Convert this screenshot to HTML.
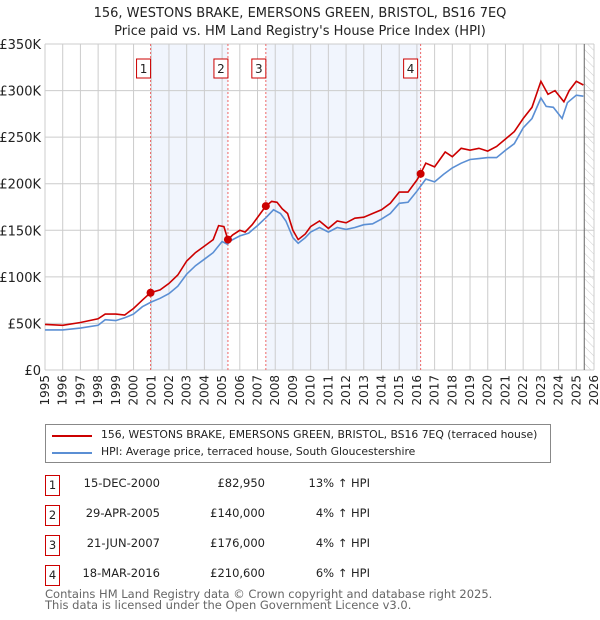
<!DOCTYPE html>
<html><head><meta charset="utf-8"><style>
body{margin:0;background:#fff;font-family:"DejaVu Sans","Liberation Sans",sans-serif;}
#wrap{position:relative;width:600px;height:620px;overflow:hidden}
svg text{font-family:"DejaVu Sans","Liberation Sans",sans-serif}
</style></head><body><div id="wrap">
<svg id="chart" width="600" height="620"></svg>
</div>
<script>
const years=[1995,1996,1997,1998,1999,2000,2001,2002,2003,2004,2005,2006,2007,2008,2009,2010,2011,2012,2013,2014,2015,2016,2017,2018,2019,2020,2021,2022,2023,2024,2025,2026];
const yTicks=[0,50000,100000,150000,200000,250000,300000,350000];
const yTickLabels=["£0","£50K","£100K","£150K","£200K","£250K","£300K","£350K"];
const hpiT=[1995,1996,1997,1998,1998.4,1999,1999.5,2000,2000.5,2001,2001.5,2002,2002.5,2003,2003.5,2004,2004.5,2005,2005.3,2005.5,2006,2006.5,2007,2007.5,2007.9,2008.3,2008.6,2009,2009.3,2009.7,2010,2010.5,2011,2011.5,2012,2012.5,2013,2013.5,2014,2014.5,2015,2015.5,2016,2016.5,2017,2017.5,2018,2018.5,2019,2019.5,2020,2020.5,2021,2021.5,2022,2022.5,2023,2023.3,2023.7,2024.2,2024.5,2025,2025.4];
const hpiV=[43,43,45,48,54,53,56,60,68,73,77,82,90,103,112,119,126,138,135,139,144,147,155,164,172,168,160,142,136,142,148,153,148,153,151,153,156,157,162,168,179,180,192,205,202,210,217,222,226,227,228,228,236,243,260,270,292,283,282,270,287,295,294];
const priceT=[1995,1996,1997,1998,1998.4,1999,1999.5,2000,2000.5,2000.96,2001.5,2002,2002.5,2003,2003.5,2004,2004.5,2004.8,2005.1,2005.33,2005.6,2006,2006.3,2006.7,2007.47,2007.8,2008.1,2008.4,2008.7,2009,2009.3,2009.7,2010,2010.5,2011,2011.5,2012,2012.5,2013,2013.5,2014,2014.5,2015,2015.5,2016,2016.21,2016.5,2017,2017.6,2018,2018.5,2019,2019.5,2020,2020.5,2021,2021.5,2022,2022.5,2023,2023.4,2023.8,2024.3,2024.6,2025,2025.4];
const priceV=[49,48,51,55,60,60,59,66,75,83,86,93,102,117,126,133,140,155,154,140,145,150,148,156,176,181,180,173,168,150,140,146,154,160,152,160,158,163,164,168,172,179,191,191,204,210.6,222,218,234,229,238,236,238,235,240,248,256,270,282,310,296,300,288,300,310,306];
const saleLabels=["1","2","3","4"];
const saleT=[2000.96,2005.33,2007.47,2016.21];
const saleV=[82950,140000,176000,210600];
const X0=45,X1=594,Y0=370,Y1=44;
const x=t=>X0+(t-1995)*(X1-X0)/31;
const y=v=>Y0-v*(Y0-Y1)/350000;
const NS="http://www.w3.org/2000/svg";
const svg=document.getElementById('chart');
function mk(tag,attrs,parent){const e=document.createElementNS(NS,tag);for(const k in attrs)e.setAttribute(k,attrs[k]);(parent||svg).appendChild(e);return e;}
let t=mk('text',{x:300,y:17,'text-anchor':'middle','font-size':13,fill:'#222'});t.textContent="156, WESTONS BRAKE, EMERSONS GREEN, BRISTOL, BS16 7EQ";


t=mk('text',{x:300,y:35,'text-anchor':'middle','font-size':13,fill:'#222'});t.textContent="Price paid vs. HM Land Registry's House Price Index (HPI)";


for(let i=0;i<4;i+=2){const r=mk('rect',{x:x(saleT[i]),y:Y1,width:x(saleT[i+1])-x(saleT[i]),height:Y0-Y1,fill:'#eef3fc',opacity:0.8});

}
const defs=mk('defs',{});const pat=mk('pattern',{id:'h',width:6,height:6,patternUnits:'userSpaceOnUse',patternTransform:'rotate(-45)'},defs);mk('line',{x1:0,y1:0,x2:0,y2:6,stroke:'#ccc','stroke-width':1},pat);
const hx=x(2025.45);
const hr=mk('rect',{x:hx,y:Y1,width:X1-hx,height:Y0-Y1,fill:'url(#h)'});


years.forEach(yr=>{const l=mk('line',{x1:x(yr),x2:x(yr),y1:Y1,y2:Y0,stroke:'#ccc','stroke-width':1});


const tx=mk('text',{transform:`translate(${x(yr)+4},${Y0+5}) rotate(-90)`,'text-anchor':'end','font-size':12,fill:'#222'});tx.textContent=yr;

});
yTicks.forEach((v,i)=>{const l=mk('line',{x1:X0,x2:X1,y1:y(v),y2:y(v),stroke:'#ccc','stroke-width':1});


const tx=mk('text',{x:X0-4,y:y(v)+5,'text-anchor':'end','font-size':13,fill:'#222'});tx.textContent=yTickLabels[i];

});
const vl=mk('line',{x1:hx,x2:hx,y1:Y1,y2:Y0,stroke:'#666','stroke-width':1});


saleT.forEach((s,i)=>{const l=mk('line',{x1:x(s),x2:x(s),y1:Y1,y2:Y0,stroke:'#e66','stroke-width':1,'stroke-dasharray':'2,2'});


const bx=x(s)-(i==3?3:0)-7;
const r=mk('rect',{x:bx-7,y:59,width:14,height:19,fill:'#fff',stroke:'#c00','stroke-width':1});


const tx=mk('text',{x:bx,y:73,'text-anchor':'middle','font-size':12,fill:'#222'});tx.textContent=saleLabels[i];

});
const path=(T,V)=>T.map((tt,i)=>(i?'L':'M')+x(tt).toFixed(1)+','+y(V[i]*1000).toFixed(1)).join('');
const hp=mk('path',{d:path(hpiT,hpiV),fill:'none',stroke:'#5b8fd4','stroke-width':1.6});


const pp=mk('path',{d:path(priceT,priceV),fill:'none',stroke:'#cc0000','stroke-width':1.6});


saleT.forEach((s,i)=>{const c=mk('circle',{cx:x(s),cy:y(saleV[i]),r:4,fill:'#cc0000'});

});
</script>
<div style="position:absolute;left:45px;top:424px;width:504px;height:37px;border:1px solid #888;font-size:10.8px;color:#222">
<div style="position:absolute;left:6px;top:10px;width:40px;height:2px;background:#cc0000"></div>
<div style="position:absolute;left:55px;top:3px;white-space:nowrap">156, WESTONS BRAKE, EMERSONS GREEN, BRISTOL, BS16 7EQ (terraced house)</div>
<div style="position:absolute;left:6px;top:27px;width:40px;height:2px;background:#5b8fd4"></div>
<div style="position:absolute;left:55px;top:20px;white-space:nowrap">HPI: Average price, terraced house, South Gloucestershire</div>
</div>
<div style="position:absolute;left:0;top:0;font-size:11.5px;color:#222">
<div>
<div style="position:absolute;left:45px;top:475px;width:13px;height:19px;border:1px solid #c00;text-align:center;line-height:19px">1</div>
<div style="position:absolute;left:60px;top:476px;width:100px;text-align:right">15-DEC-2000</div>
<div style="position:absolute;left:165px;top:476px;width:100px;text-align:right">£82,950</div>
<div style="position:absolute;left:270px;top:476px;width:100px;text-align:right">13% ↑ HPI</div></div>
<div>
<div style="position:absolute;left:45px;top:505px;width:13px;height:19px;border:1px solid #c00;text-align:center;line-height:19px">2</div>
<div style="position:absolute;left:60px;top:506px;width:100px;text-align:right">29-APR-2005</div>
<div style="position:absolute;left:165px;top:506px;width:100px;text-align:right">£140,000</div>
<div style="position:absolute;left:270px;top:506px;width:100px;text-align:right">4% ↑ HPI</div></div>
<div>
<div style="position:absolute;left:45px;top:535px;width:13px;height:19px;border:1px solid #c00;text-align:center;line-height:19px">3</div>
<div style="position:absolute;left:60px;top:536px;width:100px;text-align:right">21-JUN-2007</div>
<div style="position:absolute;left:165px;top:536px;width:100px;text-align:right">£176,000</div>
<div style="position:absolute;left:270px;top:536px;width:100px;text-align:right">4% ↑ HPI</div></div>
<div>
<div style="position:absolute;left:45px;top:565px;width:13px;height:19px;border:1px solid #c00;text-align:center;line-height:19px">4</div>
<div style="position:absolute;left:60px;top:566px;width:100px;text-align:right">18-MAR-2016</div>
<div style="position:absolute;left:165px;top:566px;width:100px;text-align:right">£210,600</div>
<div style="position:absolute;left:270px;top:566px;width:100px;text-align:right">6% ↑ HPI</div></div>
</div>
<div style="position:absolute;left:45px;top:589px;font-size:11.5px;line-height:11px;color:#666">Contains HM Land Registry data © Crown copyright and database right 2025.<br>This data is licensed under the Open Government Licence v3.0.</div>
</body></html>
